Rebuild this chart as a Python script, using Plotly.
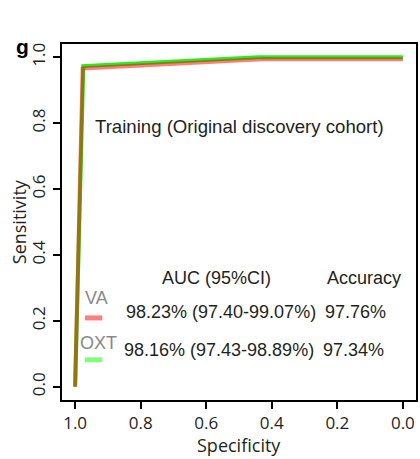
import plotly.graph_objects as go

# ROC data (specificity, sensitivity)
spec_va = [1.0, 0.977, 0.43, 0.0]
sens_va = [0.0, 0.966, 0.994, 0.994]
spec_oxt = [1.0, 0.975, 0.44, 0.0]
sens_oxt = [0.0, 0.973, 1.0, 1.0]

series_names = ["VA", "OXT"]
auc_text = ["98.23% (97.40-99.07%)", "98.16% (97.43-98.89%)"]
acc_text = ["97.76%", "97.34%"]
tick_vals = [0.0, 0.2, 0.4, 0.6, 0.8, 1.0]
tick_text = ["0.0", "0.2", "0.4", "0.6", "0.8", "1.0"]

W, H = 420, 459
L, R, T, B = 62, 2, 44, 59

fig = go.Figure()
fig.add_trace(go.Scatter(x=spec_oxt, y=sens_oxt, mode="lines",
                         line=dict(color="#22EE22", width=4), showlegend=False))
fig.add_trace(go.Scatter(x=spec_va, y=sens_va, mode="lines",
                         line=dict(color="rgba(255,0,0,0.5)", width=4), showlegend=False))

txt = "#231F20"
ann = []
def add(x, y, text, size, color=txt, family="Liberation Sans, Arial", xref="x", yref="y", angle=0):
    ann.append(dict(x=x, y=y, text=text, showarrow=False, xref=xref, yref=yref,
                    xanchor="center", yanchor="middle", textangle=angle,
                    font=dict(family=family, size=size, color=color)))

add(0.5, 0.79, "Training (Original discovery cohort)", 18.6)
add(0.57, 0.33, "AUC (95%CI)", 18)
add(0.118, 0.33, "Accuracy", 18)
name_y = [0.27, 0.133]
row_y = [0.227, 0.112]
name_x = [0.936, 0.93]
auc_x = [0.555, 0.56]
acc_x = [0.145, 0.152]
for i in range(2):
    add(name_x[i], name_y[i], series_names[i], 18, color="#888888")
    add(auc_x[i], row_y[i], auc_text[i], 18)
    add(acc_x[i], row_y[i], acc_text[i], 18)
# panel letter
add(-40/356, (400-46)/356, "<b>g</b>", 21, color="black", xref="paper", yref="paper")
# axis titles
add(0.5, -(445-400)/356, "Specificity", 18, family="Open Sans", xref="paper", yref="paper")
add(-(62-19)/356, (400-222)/356, "Sensitivity", 18, family="Open Sans", xref="paper", yref="paper", angle=-90)

shapes = [
    dict(type="line", xref="x", yref="y", x0=0.97, x1=0.917, y0=0.209, y1=0.209,
         line=dict(color="rgba(255,0,0,0.5)", width=5)),
    dict(type="line", xref="x", yref="y", x0=0.97, x1=0.917, y0=0.082, y1=0.082,
         line=dict(color="rgba(0,255,0,0.5)", width=5)),
]

axis_common = dict(showgrid=False, zeroline=False, showline=True, linecolor="black", linewidth=2,
                   mirror=True, ticks="outside", ticklen=7, tickwidth=2, tickcolor="black",
                   tickvals=tick_vals, ticktext=tick_text,
                   tickfont=dict(family="Open Sans", size=17, color=txt))

fig.update_layout(
    width=W, height=H, margin=dict(l=L, r=R, t=T, b=B),
    paper_bgcolor="white", plot_bgcolor="white",
    xaxis=dict(range=[1.04, -0.04], **axis_common),
    yaxis=dict(range=[-0.04, 1.04], tickangle=-90, ticklabelstandoff=1, **axis_common),
    annotations=ann, shapes=shapes, showlegend=False,
)
fig.write_html("out.html")
